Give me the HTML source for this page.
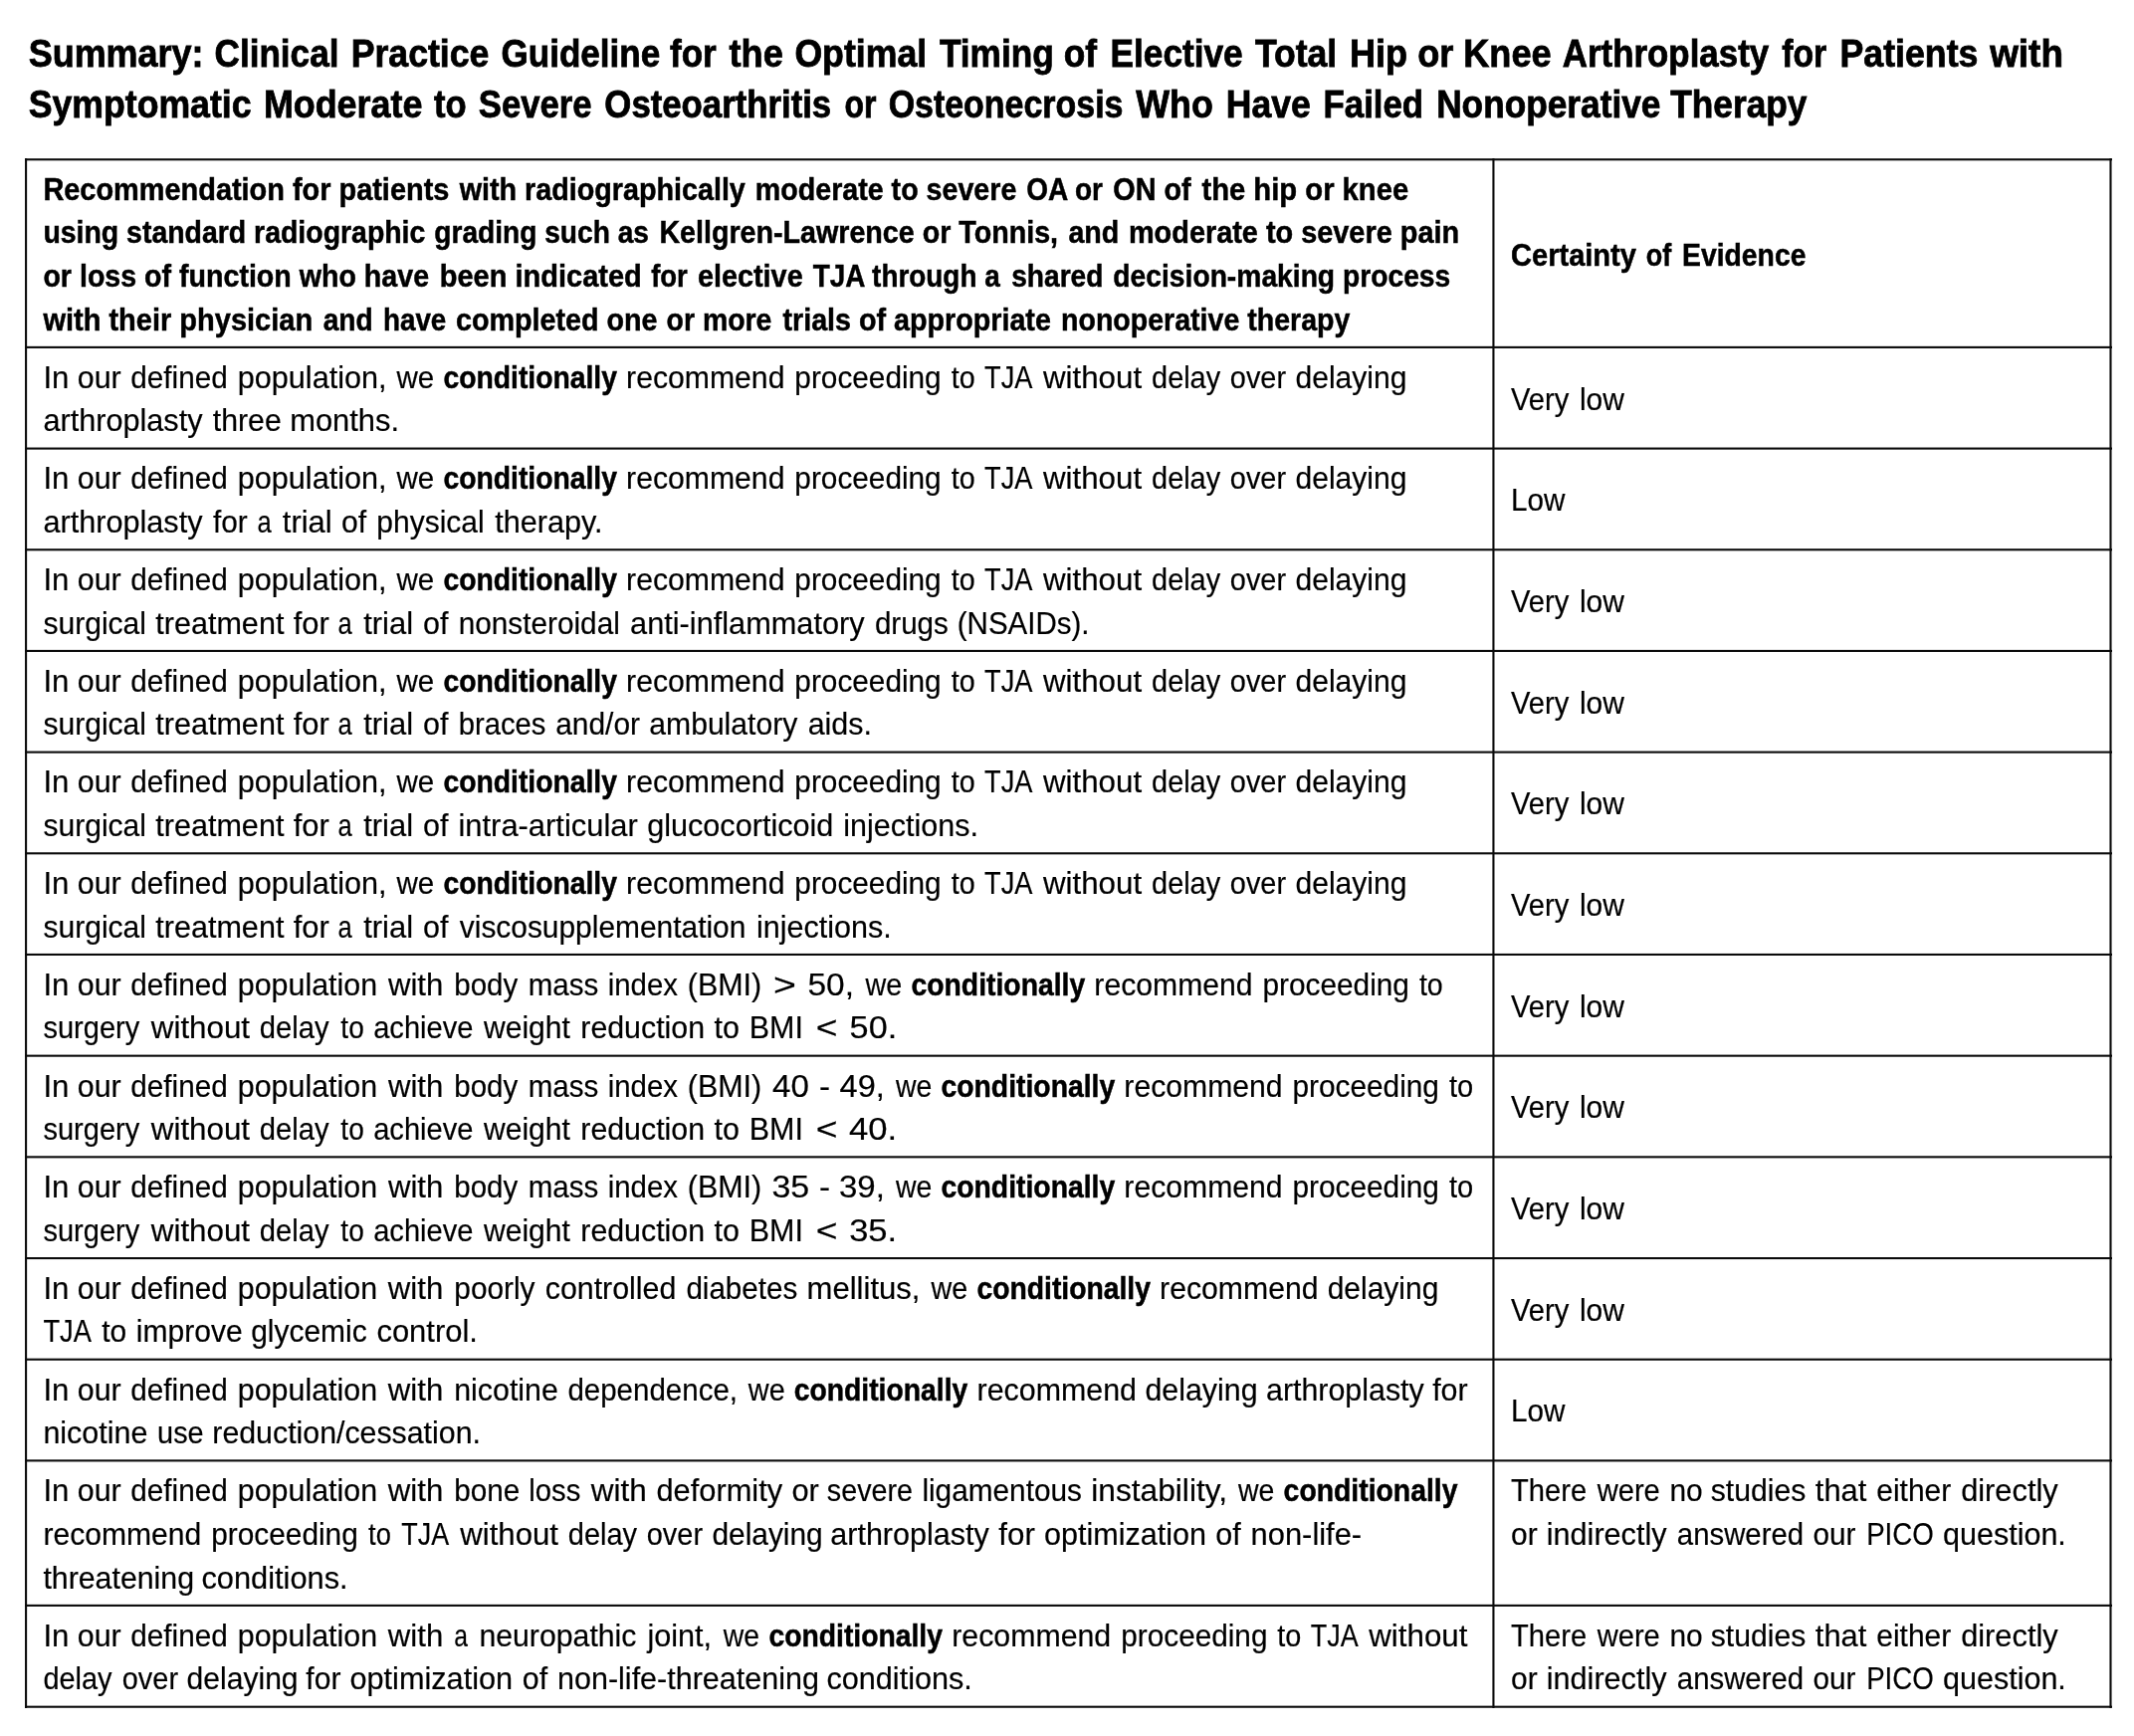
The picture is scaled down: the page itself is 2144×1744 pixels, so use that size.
<!DOCTYPE html><html><head><meta charset="utf-8"><title>Summary</title><style>
html,body{margin:0;padding:0;background:#fff}body{width:2144px;position:relative;overflow:hidden;font-family:"Liberation Sans", sans-serif;color:#000}#pg{position:absolute;left:0;top:0;width:100%;height:100%;will-change:transform}.l{position:absolute}.t{position:absolute;left:0;top:0;white-space:nowrap;transform-origin:0 0;font-size:32px;line-height:40px;height:40px;word-spacing:0.00px;-webkit-text-stroke:0.20px #000}.b{font-weight:bold;-webkit-text-stroke:0.50px #000}.h{font-size:39px;line-height:50px;height:50px;word-spacing:0.00px;-webkit-text-stroke:0.80px #000}
body{height:1744px}
</style></head><body><div id="pg">
<div class="l" style="left:25px;top:159px;width:2097px;height:1px;background:rgba(10,10,10,0.80)"></div>
<div class="l" style="left:25px;top:160px;width:2097px;height:1px;background:rgba(10,10,10,1.00)"></div>
<div class="l" style="left:25px;top:161px;width:2097px;height:1px;background:rgba(10,10,10,0.30)"></div>
<div class="l" style="left:25px;top:347px;width:2097px;height:1px;background:rgba(10,10,10,0.15)"></div>
<div class="l" style="left:25px;top:348px;width:2097px;height:1px;background:rgba(10,10,10,1.00)"></div>
<div class="l" style="left:25px;top:349px;width:2097px;height:1px;background:rgba(10,10,10,0.95)"></div>
<div class="l" style="left:25px;top:449px;width:2097px;height:1px;background:rgba(10,10,10,0.47)"></div>
<div class="l" style="left:25px;top:450px;width:2097px;height:1px;background:rgba(10,10,10,1.00)"></div>
<div class="l" style="left:25px;top:451px;width:2097px;height:1px;background:rgba(10,10,10,0.63)"></div>
<div class="l" style="left:25px;top:551px;width:2097px;height:1px;background:rgba(10,10,10,0.79)"></div>
<div class="l" style="left:25px;top:552px;width:2097px;height:1px;background:rgba(10,10,10,1.00)"></div>
<div class="l" style="left:25px;top:553px;width:2097px;height:1px;background:rgba(10,10,10,0.31)"></div>
<div class="l" style="left:25px;top:652px;width:2097px;height:1px;background:rgba(10,10,10,0.11)"></div>
<div class="l" style="left:25px;top:653px;width:2097px;height:1px;background:rgba(10,10,10,1.00)"></div>
<div class="l" style="left:25px;top:654px;width:2097px;height:1px;background:rgba(10,10,10,0.99)"></div>
<div class="l" style="left:25px;top:754px;width:2097px;height:1px;background:rgba(10,10,10,0.43)"></div>
<div class="l" style="left:25px;top:755px;width:2097px;height:1px;background:rgba(10,10,10,1.00)"></div>
<div class="l" style="left:25px;top:756px;width:2097px;height:1px;background:rgba(10,10,10,0.67)"></div>
<div class="l" style="left:25px;top:856px;width:2097px;height:1px;background:rgba(10,10,10,0.75)"></div>
<div class="l" style="left:25px;top:857px;width:2097px;height:1px;background:rgba(10,10,10,1.00)"></div>
<div class="l" style="left:25px;top:858px;width:2097px;height:1px;background:rgba(10,10,10,0.35)"></div>
<div class="l" style="left:25px;top:957px;width:2097px;height:1px;background:rgba(10,10,10,0.07)"></div>
<div class="l" style="left:25px;top:958px;width:2097px;height:1px;background:rgba(10,10,10,1.00)"></div>
<div class="l" style="left:25px;top:959px;width:2097px;height:1px;background:rgba(10,10,10,1.00)"></div>
<div class="l" style="left:25px;top:1059px;width:2097px;height:1px;background:rgba(10,10,10,0.39)"></div>
<div class="l" style="left:25px;top:1060px;width:2097px;height:1px;background:rgba(10,10,10,1.00)"></div>
<div class="l" style="left:25px;top:1061px;width:2097px;height:1px;background:rgba(10,10,10,0.71)"></div>
<div class="l" style="left:25px;top:1161px;width:2097px;height:1px;background:rgba(10,10,10,0.71)"></div>
<div class="l" style="left:25px;top:1162px;width:2097px;height:1px;background:rgba(10,10,10,1.00)"></div>
<div class="l" style="left:25px;top:1163px;width:2097px;height:1px;background:rgba(10,10,10,0.39)"></div>
<div class="l" style="left:25px;top:1263px;width:2097px;height:1px;background:rgba(10,10,10,1.00)"></div>
<div class="l" style="left:25px;top:1264px;width:2097px;height:1px;background:rgba(10,10,10,1.00)"></div>
<div class="l" style="left:25px;top:1265px;width:2097px;height:1px;background:rgba(10,10,10,0.07)"></div>
<div class="l" style="left:25px;top:1364px;width:2097px;height:1px;background:rgba(10,10,10,0.35)"></div>
<div class="l" style="left:25px;top:1365px;width:2097px;height:1px;background:rgba(10,10,10,1.00)"></div>
<div class="l" style="left:25px;top:1366px;width:2097px;height:1px;background:rgba(10,10,10,0.75)"></div>
<div class="l" style="left:25px;top:1466px;width:2097px;height:1px;background:rgba(10,10,10,0.67)"></div>
<div class="l" style="left:25px;top:1467px;width:2097px;height:1px;background:rgba(10,10,10,1.00)"></div>
<div class="l" style="left:25px;top:1468px;width:2097px;height:1px;background:rgba(10,10,10,0.43)"></div>
<div class="l" style="left:25px;top:1611px;width:2097px;height:1px;background:rgba(10,10,10,0.15)"></div>
<div class="l" style="left:25px;top:1612px;width:2097px;height:1px;background:rgba(10,10,10,1.00)"></div>
<div class="l" style="left:25px;top:1613px;width:2097px;height:1px;background:rgba(10,10,10,0.95)"></div>
<div class="l" style="left:25px;top:1713px;width:2097px;height:1px;background:rgba(10,10,10,0.35)"></div>
<div class="l" style="left:25px;top:1714px;width:2097px;height:1px;background:rgba(10,10,10,1.00)"></div>
<div class="l" style="left:25px;top:1715px;width:2097px;height:1px;background:rgba(10,10,10,0.75)"></div>
<div class="l" style="left:25px;top:159px;width:1px;height:1557px;background:rgba(10,10,10,0.97)"></div>
<div class="l" style="left:26px;top:159px;width:1px;height:1557px;background:rgba(10,10,10,1.00)"></div>
<div class="l" style="left:27px;top:159px;width:1px;height:1557px;background:rgba(10,10,10,0.13)"></div>
<div class="l" style="left:1499px;top:159px;width:1px;height:1557px;background:rgba(10,10,10,0.61)"></div>
<div class="l" style="left:1500px;top:159px;width:1px;height:1557px;background:rgba(10,10,10,1.00)"></div>
<div class="l" style="left:1501px;top:159px;width:1px;height:1557px;background:rgba(10,10,10,0.49)"></div>
<div class="l" style="left:2119px;top:159px;width:1px;height:1557px;background:rgba(10,10,10,0.55)"></div>
<div class="l" style="left:2120px;top:159px;width:1px;height:1557px;background:rgba(10,10,10,1.00)"></div>
<div class="l" style="left:2121px;top:159px;width:1px;height:1557px;background:rgba(10,10,10,0.55)"></div>
<div class="t b h" style="transform:translate(28.70px,29.00px) scaleX(0.9218)">Summary:</div>
<div class="t b h" style="transform:translate(215.54px,29.00px) scaleX(0.9003)">Clinical</div>
<div class="t b h" style="transform:translate(352.67px,29.00px) scaleX(0.9139)">Practice</div>
<div class="t b h" style="transform:translate(503.43px,29.00px) scaleX(0.8994)">Guideline for</div>
<div class="t b h" style="transform:translate(732.51px,29.00px) scaleX(0.9281)">the</div>
<div class="t b h" style="transform:translate(798.38px,29.00px) scaleX(0.9145)">Optimal</div>
<div class="t b h" style="transform:translate(943.89px,29.00px) scaleX(0.9045)">Timing of</div>
<div class="t b h" style="transform:translate(1115.54px,29.00px) scaleX(0.9031)">Elective</div>
<div class="t b h" style="transform:translate(1260.89px,29.00px) scaleX(0.9121)">Total</div>
<div class="t b h" style="transform:translate(1355.94px,29.00px) scaleX(0.9259)">Hip or Knee</div>
<div class="t b h" style="transform:translate(1569.84px,29.00px) scaleX(0.8940)">Arthroplasty</div>
<div class="t b h" style="transform:translate(1790.15px,29.00px) scaleX(0.8659)">for</div>
<div class="t b h" style="transform:translate(1848.43px,29.00px) scaleX(0.9164)">Patients</div>
<div class="t b h" style="transform:translate(1999.14px,29.00px) scaleX(0.9466)">with</div>
<div class="t b h" style="transform:translate(28.70px,80.00px) scaleX(0.9140)">Symptomatic</div>
<div class="t b h" style="transform:translate(264.88px,80.00px) scaleX(0.9201)">Moderate</div>
<div class="t b h" style="transform:translate(436.05px,80.00px) scaleX(0.8863)">to</div>
<div class="t b h" style="transform:translate(480.87px,80.00px) scaleX(0.8873)">Severe</div>
<div class="t b h" style="transform:translate(607.36px,80.00px) scaleX(0.8909)">Osteoarthritis</div>
<div class="t b h" style="transform:translate(848.58px,80.00px) scaleX(0.8194)">or</div>
<div class="t b h" style="transform:translate(892.64px,80.00px) scaleX(0.8704)">Osteonecrosis</div>
<div class="t b h" style="transform:translate(1141.23px,80.00px) scaleX(0.9191)">Who</div>
<div class="t b h" style="transform:translate(1231.85px,80.00px) scaleX(0.9109)">Have</div>
<div class="t b h" style="transform:translate(1329.51px,80.00px) scaleX(0.8926)">Failed</div>
<div class="t b h" style="transform:translate(1443.15px,80.00px) scaleX(0.9040)">Nonoperative Therapy</div>
<div class="t b" style="transform:translate(43.40px,170.00px) scaleX(0.9033)">Recommendation for patients</div>
<div class="t b" style="transform:translate(461.65px,170.00px) scaleX(0.8973)">with radiographically</div>
<div class="t b" style="transform:translate(758.79px,170.00px) scaleX(0.8947)">moderate to severe</div>
<div class="t b" style="transform:translate(1031.15px,170.00px) scaleX(0.8757)">OA or</div>
<div class="t b" style="transform:translate(1118.30px,170.00px) scaleX(0.9003)">ON of</div>
<div class="t b" style="transform:translate(1207.40px,170.00px) scaleX(0.9131)">the hip or knee</div>
<div class="t b" style="transform:translate(43.40px,213.00px) scaleX(0.8886)">using standard radiographic</div>
<div class="t b" style="transform:translate(436.34px,213.00px) scaleX(0.8784)">grading such as</div>
<div class="t b" style="transform:translate(662.39px,213.00px) scaleX(0.8953)">Kellgren-Lawrence or Tonnis,</div>
<div class="t b" style="transform:translate(1073.44px,213.00px) scaleX(0.8933)">and</div>
<div class="t b" style="transform:translate(1133.93px,213.00px) scaleX(0.9023)">moderate to severe pain</div>
<div class="t b" style="transform:translate(43.40px,257.00px) scaleX(0.8936)">or loss of function who have</div>
<div class="t b" style="transform:translate(441.76px,257.00px) scaleX(0.9060)">been indicated</div>
<div class="t b" style="transform:translate(654.17px,257.00px) scaleX(0.8590)">for</div>
<div class="t b" style="transform:translate(700.91px,257.00px) scaleX(0.9008)">elective</div>
<div class="t b" style="transform:translate(816.73px,257.00px) scaleX(0.8714)">TJA through a</div>
<div class="t b" style="transform:translate(1016.21px,257.00px) scaleX(0.8788)">shared</div>
<div class="t b" style="transform:translate(1118.34px,257.00px) scaleX(0.8823)">decision-making process</div>
<div class="t b" style="transform:translate(43.40px,301.00px) scaleX(0.9063)">with their physician</div>
<div class="t b" style="transform:translate(324.71px,301.00px) scaleX(0.8792)">and</div>
<div class="t b" style="transform:translate(384.93px,301.00px) scaleX(0.8693)">have</div>
<div class="t b" style="transform:translate(457.92px,301.00px) scaleX(0.8970)">completed one</div>
<div class="t b" style="transform:translate(669.60px,301.00px) scaleX(0.8882)">or more</div>
<div class="t b" style="transform:translate(786.46px,301.00px) scaleX(0.8965)">trials of appropriate</div>
<div class="t b" style="transform:translate(1066.06px,301.00px) scaleX(0.8920)">nonoperative therapy</div>
<div class="t b" style="transform:translate(1518.00px,236.00px) scaleX(0.9081)">Certainty</div>
<div class="t b" style="transform:translate(1653.85px,236.00px) scaleX(0.8425)">of</div>
<div class="t b" style="transform:translate(1690.09px,236.00px) scaleX(0.8846)">Evidence</div>
<div class="t" style="transform:translate(43.40px,359.00px) scaleX(0.9741)">In</div>
<div class="t" style="transform:translate(77.79px,359.00px) scaleX(0.9497)">our</div>
<div class="t" style="transform:translate(131.36px,359.00px) scaleX(0.9274)">defined</div>
<div class="t" style="transform:translate(238.76px,359.00px) scaleX(0.9562)">population,</div>
<div class="t" style="transform:translate(398.45px,359.00px) scaleX(0.9243)">we</div>
<div class="t b" style="transform:translate(445.42px,359.00px) scaleX(0.8843)">conditionally</div>
<div class="t" style="transform:translate(629.10px,359.00px) scaleX(0.9429)">recommend</div>
<div class="t" style="transform:translate(798.34px,359.00px) scaleX(0.9305)">proceeding</div>
<div class="t" style="transform:translate(955.65px,359.00px) scaleX(0.8971)">to</div>
<div class="t" style="transform:translate(989.12px,359.00px) scaleX(0.8493)">TJA</div>
<div class="t" style="transform:translate(1047.90px,359.00px) scaleX(0.9785)">without</div>
<div class="t" style="transform:translate(1157.05px,359.00px) scaleX(0.9033)">delay</div>
<div class="t" style="transform:translate(1235.85px,359.00px) scaleX(0.9026)">over</div>
<div class="t" style="transform:translate(1301.46px,359.00px) scaleX(0.9393)">delaying</div>
<div class="t" style="transform:translate(43.40px,402.00px) scaleX(0.9575)">arthroplasty</div>
<div class="t" style="transform:translate(213.84px,402.00px) scaleX(0.9442)">three</div>
<div class="t" style="transform:translate(291.16px,402.00px) scaleX(0.9648)">months.</div>
<div class="t" style="transform:translate(1518.00px,381.00px) scaleX(0.9113)">Very</div>
<div class="t" style="transform:translate(1586.91px,381.00px) scaleX(0.9370)">low</div>
<div class="t" style="transform:translate(43.40px,460.00px) scaleX(0.9741)">In</div>
<div class="t" style="transform:translate(77.79px,460.00px) scaleX(0.9497)">our</div>
<div class="t" style="transform:translate(131.36px,460.00px) scaleX(0.9274)">defined</div>
<div class="t" style="transform:translate(238.76px,460.00px) scaleX(0.9562)">population,</div>
<div class="t" style="transform:translate(398.45px,460.00px) scaleX(0.9243)">we</div>
<div class="t b" style="transform:translate(445.42px,460.00px) scaleX(0.8843)">conditionally</div>
<div class="t" style="transform:translate(629.10px,460.00px) scaleX(0.9429)">recommend</div>
<div class="t" style="transform:translate(798.34px,460.00px) scaleX(0.9305)">proceeding</div>
<div class="t" style="transform:translate(955.65px,460.00px) scaleX(0.8971)">to</div>
<div class="t" style="transform:translate(989.12px,460.00px) scaleX(0.8493)">TJA</div>
<div class="t" style="transform:translate(1047.90px,460.00px) scaleX(0.9785)">without</div>
<div class="t" style="transform:translate(1157.05px,460.00px) scaleX(0.9033)">delay</div>
<div class="t" style="transform:translate(1235.85px,460.00px) scaleX(0.9026)">over</div>
<div class="t" style="transform:translate(1301.46px,460.00px) scaleX(0.9393)">delaying</div>
<div class="t" style="transform:translate(43.40px,504.00px) scaleX(0.9575)">arthroplasty</div>
<div class="t" style="transform:translate(213.95px,504.00px) scaleX(0.9314)">for</div>
<div class="t" style="transform:translate(258.38px,504.00px) scaleX(0.7978)">a</div>
<div class="t" style="transform:translate(283.80px,504.00px) scaleX(0.9660)">trial</div>
<div class="t" style="transform:translate(343.12px,504.00px) scaleX(0.9405)">of</div>
<div class="t" style="transform:translate(378.29px,504.00px) scaleX(0.9378)">physical</div>
<div class="t" style="transform:translate(497.17px,504.00px) scaleX(0.9574)">therapy.</div>
<div class="t" style="transform:translate(1518.00px,482.00px) scaleX(0.9273)">Low</div>
<div class="t" style="transform:translate(43.40px,562.00px) scaleX(0.9741)">In</div>
<div class="t" style="transform:translate(77.79px,562.00px) scaleX(0.9497)">our</div>
<div class="t" style="transform:translate(131.36px,562.00px) scaleX(0.9274)">defined</div>
<div class="t" style="transform:translate(238.76px,562.00px) scaleX(0.9562)">population,</div>
<div class="t" style="transform:translate(398.45px,562.00px) scaleX(0.9243)">we</div>
<div class="t b" style="transform:translate(445.42px,562.00px) scaleX(0.8843)">conditionally</div>
<div class="t" style="transform:translate(629.10px,562.00px) scaleX(0.9429)">recommend</div>
<div class="t" style="transform:translate(798.34px,562.00px) scaleX(0.9305)">proceeding</div>
<div class="t" style="transform:translate(955.65px,562.00px) scaleX(0.8971)">to</div>
<div class="t" style="transform:translate(989.12px,562.00px) scaleX(0.8493)">TJA</div>
<div class="t" style="transform:translate(1047.90px,562.00px) scaleX(0.9785)">without</div>
<div class="t" style="transform:translate(1157.05px,562.00px) scaleX(0.9033)">delay</div>
<div class="t" style="transform:translate(1235.85px,562.00px) scaleX(0.9026)">over</div>
<div class="t" style="transform:translate(1301.46px,562.00px) scaleX(0.9393)">delaying</div>
<div class="t" style="transform:translate(43.40px,606.00px) scaleX(0.9397)">surgical</div>
<div class="t" style="transform:translate(156.22px,606.00px) scaleX(0.9555)">treatment</div>
<div class="t" style="transform:translate(294.74px,606.00px) scaleX(0.9649)">for</div>
<div class="t" style="transform:translate(339.38px,606.00px) scaleX(0.7978)">a</div>
<div class="t" style="transform:translate(365.16px,606.00px) scaleX(0.9682)">trial</div>
<div class="t" style="transform:translate(425.07px,606.00px) scaleX(0.9508)">of</div>
<div class="t" style="transform:translate(460.68px,606.00px) scaleX(0.9300)">nonsteroidal</div>
<div class="t" style="transform:translate(633.12px,606.00px) scaleX(0.9595)">anti-inflammatory</div>
<div class="t" style="transform:translate(878.89px,606.00px) scaleX(0.9234)">drugs</div>
<div class="t" style="transform:translate(961.80px,606.00px) scaleX(0.9217)">(NSAIDs).</div>
<div class="t" style="transform:translate(1518.00px,584.00px) scaleX(0.9113)">Very</div>
<div class="t" style="transform:translate(1586.91px,584.00px) scaleX(0.9370)">low</div>
<div class="t" style="transform:translate(43.40px,664.00px) scaleX(0.9741)">In</div>
<div class="t" style="transform:translate(77.79px,664.00px) scaleX(0.9497)">our</div>
<div class="t" style="transform:translate(131.36px,664.00px) scaleX(0.9274)">defined</div>
<div class="t" style="transform:translate(238.76px,664.00px) scaleX(0.9562)">population,</div>
<div class="t" style="transform:translate(398.45px,664.00px) scaleX(0.9243)">we</div>
<div class="t b" style="transform:translate(445.42px,664.00px) scaleX(0.8843)">conditionally</div>
<div class="t" style="transform:translate(629.10px,664.00px) scaleX(0.9429)">recommend</div>
<div class="t" style="transform:translate(798.34px,664.00px) scaleX(0.9305)">proceeding</div>
<div class="t" style="transform:translate(955.65px,664.00px) scaleX(0.8971)">to</div>
<div class="t" style="transform:translate(989.12px,664.00px) scaleX(0.8493)">TJA</div>
<div class="t" style="transform:translate(1047.90px,664.00px) scaleX(0.9785)">without</div>
<div class="t" style="transform:translate(1157.05px,664.00px) scaleX(0.9033)">delay</div>
<div class="t" style="transform:translate(1235.85px,664.00px) scaleX(0.9026)">over</div>
<div class="t" style="transform:translate(1301.46px,664.00px) scaleX(0.9393)">delaying</div>
<div class="t" style="transform:translate(43.40px,707.00px) scaleX(0.9397)">surgical</div>
<div class="t" style="transform:translate(156.22px,707.00px) scaleX(0.9555)">treatment</div>
<div class="t" style="transform:translate(294.74px,707.00px) scaleX(0.9649)">for</div>
<div class="t" style="transform:translate(339.38px,707.00px) scaleX(0.7978)">a</div>
<div class="t" style="transform:translate(365.16px,707.00px) scaleX(0.9682)">trial</div>
<div class="t" style="transform:translate(425.07px,707.00px) scaleX(0.9508)">of</div>
<div class="t" style="transform:translate(460.76px,707.00px) scaleX(0.9132)">braces</div>
<div class="t" style="transform:translate(558.21px,707.00px) scaleX(0.9344)">and/or</div>
<div class="t" style="transform:translate(652.35px,707.00px) scaleX(0.9403)">ambulatory</div>
<div class="t" style="transform:translate(811.65px,707.00px) scaleX(0.9515)">aids.</div>
<div class="t" style="transform:translate(1518.00px,686.00px) scaleX(0.9113)">Very</div>
<div class="t" style="transform:translate(1586.91px,686.00px) scaleX(0.9370)">low</div>
<div class="t" style="transform:translate(43.40px,765.00px) scaleX(0.9741)">In</div>
<div class="t" style="transform:translate(77.79px,765.00px) scaleX(0.9497)">our</div>
<div class="t" style="transform:translate(131.36px,765.00px) scaleX(0.9274)">defined</div>
<div class="t" style="transform:translate(238.76px,765.00px) scaleX(0.9562)">population,</div>
<div class="t" style="transform:translate(398.45px,765.00px) scaleX(0.9243)">we</div>
<div class="t b" style="transform:translate(445.42px,765.00px) scaleX(0.8843)">conditionally</div>
<div class="t" style="transform:translate(629.10px,765.00px) scaleX(0.9429)">recommend</div>
<div class="t" style="transform:translate(798.34px,765.00px) scaleX(0.9305)">proceeding</div>
<div class="t" style="transform:translate(955.65px,765.00px) scaleX(0.8971)">to</div>
<div class="t" style="transform:translate(989.12px,765.00px) scaleX(0.8493)">TJA</div>
<div class="t" style="transform:translate(1047.90px,765.00px) scaleX(0.9785)">without</div>
<div class="t" style="transform:translate(1157.05px,765.00px) scaleX(0.9033)">delay</div>
<div class="t" style="transform:translate(1235.85px,765.00px) scaleX(0.9026)">over</div>
<div class="t" style="transform:translate(1301.46px,765.00px) scaleX(0.9393)">delaying</div>
<div class="t" style="transform:translate(43.40px,809.00px) scaleX(0.9397)">surgical</div>
<div class="t" style="transform:translate(156.22px,809.00px) scaleX(0.9555)">treatment</div>
<div class="t" style="transform:translate(294.74px,809.00px) scaleX(0.9649)">for</div>
<div class="t" style="transform:translate(339.38px,809.00px) scaleX(0.7978)">a</div>
<div class="t" style="transform:translate(365.16px,809.00px) scaleX(0.9682)">trial</div>
<div class="t" style="transform:translate(425.07px,809.00px) scaleX(0.9508)">of</div>
<div class="t" style="transform:translate(460.49px,809.00px) scaleX(0.9653)">intra-articular</div>
<div class="t" style="transform:translate(650.21px,809.00px) scaleX(0.9563)">glucocorticoid</div>
<div class="t" style="transform:translate(847.34px,809.00px) scaleX(0.9524)">injections.</div>
<div class="t" style="transform:translate(1518.00px,787.00px) scaleX(0.9113)">Very</div>
<div class="t" style="transform:translate(1586.91px,787.00px) scaleX(0.9370)">low</div>
<div class="t" style="transform:translate(43.40px,867.00px) scaleX(0.9741)">In</div>
<div class="t" style="transform:translate(77.79px,867.00px) scaleX(0.9497)">our</div>
<div class="t" style="transform:translate(131.36px,867.00px) scaleX(0.9274)">defined</div>
<div class="t" style="transform:translate(238.76px,867.00px) scaleX(0.9562)">population,</div>
<div class="t" style="transform:translate(398.45px,867.00px) scaleX(0.9243)">we</div>
<div class="t b" style="transform:translate(445.42px,867.00px) scaleX(0.8843)">conditionally</div>
<div class="t" style="transform:translate(629.10px,867.00px) scaleX(0.9429)">recommend</div>
<div class="t" style="transform:translate(798.34px,867.00px) scaleX(0.9305)">proceeding</div>
<div class="t" style="transform:translate(955.65px,867.00px) scaleX(0.8971)">to</div>
<div class="t" style="transform:translate(989.12px,867.00px) scaleX(0.8493)">TJA</div>
<div class="t" style="transform:translate(1047.90px,867.00px) scaleX(0.9785)">without</div>
<div class="t" style="transform:translate(1157.05px,867.00px) scaleX(0.9033)">delay</div>
<div class="t" style="transform:translate(1235.85px,867.00px) scaleX(0.9026)">over</div>
<div class="t" style="transform:translate(1301.46px,867.00px) scaleX(0.9393)">delaying</div>
<div class="t" style="transform:translate(43.40px,911.00px) scaleX(0.9397)">surgical</div>
<div class="t" style="transform:translate(156.22px,911.00px) scaleX(0.9555)">treatment</div>
<div class="t" style="transform:translate(294.74px,911.00px) scaleX(0.9649)">for</div>
<div class="t" style="transform:translate(339.38px,911.00px) scaleX(0.7978)">a</div>
<div class="t" style="transform:translate(365.16px,911.00px) scaleX(0.9682)">trial</div>
<div class="t" style="transform:translate(425.07px,911.00px) scaleX(0.9508)">of</div>
<div class="t" style="transform:translate(461.79px,911.00px) scaleX(0.9344)">viscosupplementation</div>
<div class="t" style="transform:translate(760.05px,911.00px) scaleX(0.9540)">injections.</div>
<div class="t" style="transform:translate(1518.00px,889.00px) scaleX(0.9113)">Very</div>
<div class="t" style="transform:translate(1586.91px,889.00px) scaleX(0.9370)">low</div>
<div class="t" style="transform:translate(43.40px,969.00px) scaleX(0.9741)">In</div>
<div class="t" style="transform:translate(77.79px,969.00px) scaleX(0.9497)">our</div>
<div class="t" style="transform:translate(131.36px,969.00px) scaleX(0.9274)">defined</div>
<div class="t" style="transform:translate(238.83px,969.00px) scaleX(0.9493)">population</div>
<div class="t" style="transform:translate(389.90px,969.00px) scaleX(0.9748)">with</div>
<div class="t" style="transform:translate(456.34px,969.00px) scaleX(0.9210)">body</div>
<div class="t" style="transform:translate(530.74px,969.00px) scaleX(0.9233)">mass</div>
<div class="t" style="transform:translate(610.69px,969.00px) scaleX(0.9177)">index</div>
<div class="t" style="transform:translate(690.78px,969.00px) scaleX(0.9516)">(BMI)</div>
<div class="t" style="transform:translate(777.01px,969.00px) scaleX(1.2251)">&gt;</div>
<div class="t" style="transform:translate(811.45px,969.00px) scaleX(1.0470)">50,</div>
<div class="t" style="transform:translate(869.46px,969.00px) scaleX(0.8999)">we</div>
<div class="t b" style="transform:translate(915.51px,969.00px) scaleX(0.8851)">conditionally</div>
<div class="t" style="transform:translate(1099.34px,969.00px) scaleX(0.9428)">recommend</div>
<div class="t" style="transform:translate(1268.45px,969.00px) scaleX(0.9312)">proceeding</div>
<div class="t" style="transform:translate(1425.90px,969.00px) scaleX(0.8932)">to</div>
<div class="t" style="transform:translate(43.40px,1012.00px) scaleX(0.9077)">surgery</div>
<div class="t" style="transform:translate(151.79px,1012.00px) scaleX(0.9792)">without</div>
<div class="t" style="transform:translate(260.77px,1012.00px) scaleX(0.9113)">delay</div>
<div class="t" style="transform:translate(342.37px,1012.00px) scaleX(0.8768)">to</div>
<div class="t" style="transform:translate(375.14px,1012.00px) scaleX(0.9096)">achieve</div>
<div class="t" style="transform:translate(486.00px,1012.00px) scaleX(0.9386)">weight</div>
<div class="t" style="transform:translate(583.31px,1012.00px) scaleX(0.9473)">reduction</div>
<div class="t" style="transform:translate(717.57px,1012.00px) scaleX(0.9511)">to</div>
<div class="t" style="transform:translate(752.73px,1012.00px) scaleX(0.9523)">BMI</div>
<div class="t" style="transform:translate(819.73px,1012.00px) scaleX(1.1631)">&lt;</div>
<div class="t" style="transform:translate(853.60px,1012.00px) scaleX(1.0695)">50.</div>
<div class="t" style="transform:translate(1518.00px,991.00px) scaleX(0.9113)">Very</div>
<div class="t" style="transform:translate(1586.91px,991.00px) scaleX(0.9370)">low</div>
<div class="t" style="transform:translate(43.40px,1071.00px) scaleX(0.9741)">In</div>
<div class="t" style="transform:translate(77.79px,1071.00px) scaleX(0.9497)">our</div>
<div class="t" style="transform:translate(131.36px,1071.00px) scaleX(0.9274)">defined</div>
<div class="t" style="transform:translate(238.83px,1071.00px) scaleX(0.9493)">population</div>
<div class="t" style="transform:translate(389.90px,1071.00px) scaleX(0.9748)">with</div>
<div class="t" style="transform:translate(456.34px,1071.00px) scaleX(0.9210)">body</div>
<div class="t" style="transform:translate(530.74px,1071.00px) scaleX(0.9233)">mass</div>
<div class="t" style="transform:translate(610.69px,1071.00px) scaleX(0.9177)">index</div>
<div class="t" style="transform:translate(690.78px,1071.00px) scaleX(0.9516)">(BMI)</div>
<div class="t" style="transform:translate(776.10px,1071.00px) scaleX(1.0354)">40</div>
<div class="t" style="transform:translate(822.98px,1071.00px) scaleX(1.0350)">-</div>
<div class="t" style="transform:translate(843.59px,1071.00px) scaleX(1.0165)">49,</div>
<div class="t" style="transform:translate(899.99px,1071.00px) scaleX(0.8885)">we</div>
<div class="t b" style="transform:translate(945.51px,1071.00px) scaleX(0.8851)">conditionally</div>
<div class="t" style="transform:translate(1129.34px,1071.00px) scaleX(0.9428)">recommend</div>
<div class="t" style="transform:translate(1298.45px,1071.00px) scaleX(0.9312)">proceeding</div>
<div class="t" style="transform:translate(1455.88px,1071.00px) scaleX(0.9076)">to</div>
<div class="t" style="transform:translate(43.40px,1114.00px) scaleX(0.9077)">surgery</div>
<div class="t" style="transform:translate(151.79px,1114.00px) scaleX(0.9792)">without</div>
<div class="t" style="transform:translate(260.77px,1114.00px) scaleX(0.9113)">delay</div>
<div class="t" style="transform:translate(342.37px,1114.00px) scaleX(0.8768)">to</div>
<div class="t" style="transform:translate(375.14px,1114.00px) scaleX(0.9096)">achieve</div>
<div class="t" style="transform:translate(486.00px,1114.00px) scaleX(0.9386)">weight</div>
<div class="t" style="transform:translate(583.31px,1114.00px) scaleX(0.9473)">reduction</div>
<div class="t" style="transform:translate(717.57px,1114.00px) scaleX(0.9511)">to</div>
<div class="t" style="transform:translate(752.73px,1114.00px) scaleX(0.9523)">BMI</div>
<div class="t" style="transform:translate(819.73px,1114.00px) scaleX(1.1631)">&lt;</div>
<div class="t" style="transform:translate(852.97px,1114.00px) scaleX(1.0844)">40.</div>
<div class="t" style="transform:translate(1518.00px,1092.00px) scaleX(0.9113)">Very</div>
<div class="t" style="transform:translate(1586.91px,1092.00px) scaleX(0.9370)">low</div>
<div class="t" style="transform:translate(43.40px,1172.00px) scaleX(0.9741)">In</div>
<div class="t" style="transform:translate(77.79px,1172.00px) scaleX(0.9497)">our</div>
<div class="t" style="transform:translate(131.36px,1172.00px) scaleX(0.9274)">defined</div>
<div class="t" style="transform:translate(238.83px,1172.00px) scaleX(0.9493)">population</div>
<div class="t" style="transform:translate(389.90px,1172.00px) scaleX(0.9748)">with</div>
<div class="t" style="transform:translate(456.34px,1172.00px) scaleX(0.9210)">body</div>
<div class="t" style="transform:translate(530.74px,1172.00px) scaleX(0.9233)">mass</div>
<div class="t" style="transform:translate(610.69px,1172.00px) scaleX(0.9177)">index</div>
<div class="t" style="transform:translate(690.78px,1172.00px) scaleX(0.9516)">(BMI)</div>
<div class="t" style="transform:translate(775.44px,1172.00px) scaleX(1.0613)">35</div>
<div class="t" style="transform:translate(822.98px,1172.00px) scaleX(1.0350)">-</div>
<div class="t" style="transform:translate(842.99px,1172.00px) scaleX(1.0327)">39,</div>
<div class="t" style="transform:translate(899.99px,1172.00px) scaleX(0.8885)">we</div>
<div class="t b" style="transform:translate(945.51px,1172.00px) scaleX(0.8851)">conditionally</div>
<div class="t" style="transform:translate(1129.34px,1172.00px) scaleX(0.9428)">recommend</div>
<div class="t" style="transform:translate(1298.45px,1172.00px) scaleX(0.9312)">proceeding</div>
<div class="t" style="transform:translate(1455.88px,1172.00px) scaleX(0.9076)">to</div>
<div class="t" style="transform:translate(43.40px,1216.00px) scaleX(0.9077)">surgery</div>
<div class="t" style="transform:translate(151.79px,1216.00px) scaleX(0.9792)">without</div>
<div class="t" style="transform:translate(260.77px,1216.00px) scaleX(0.9113)">delay</div>
<div class="t" style="transform:translate(342.37px,1216.00px) scaleX(0.8768)">to</div>
<div class="t" style="transform:translate(375.14px,1216.00px) scaleX(0.9096)">achieve</div>
<div class="t" style="transform:translate(486.00px,1216.00px) scaleX(0.9386)">weight</div>
<div class="t" style="transform:translate(583.31px,1216.00px) scaleX(0.9473)">reduction</div>
<div class="t" style="transform:translate(717.57px,1216.00px) scaleX(0.9511)">to</div>
<div class="t" style="transform:translate(752.73px,1216.00px) scaleX(0.9523)">BMI</div>
<div class="t" style="transform:translate(819.73px,1216.00px) scaleX(1.1631)">&lt;</div>
<div class="t" style="transform:translate(853.17px,1216.00px) scaleX(1.0790)">35.</div>
<div class="t" style="transform:translate(1518.00px,1194.00px) scaleX(0.9113)">Very</div>
<div class="t" style="transform:translate(1586.91px,1194.00px) scaleX(0.9370)">low</div>
<div class="t" style="transform:translate(43.40px,1274.00px) scaleX(0.9741)">In</div>
<div class="t" style="transform:translate(77.79px,1274.00px) scaleX(0.9497)">our</div>
<div class="t" style="transform:translate(131.36px,1274.00px) scaleX(0.9274)">defined</div>
<div class="t" style="transform:translate(238.83px,1274.00px) scaleX(0.9493)">population</div>
<div class="t" style="transform:translate(389.79px,1274.00px) scaleX(0.9742)">with</div>
<div class="t" style="transform:translate(456.30px,1274.00px) scaleX(0.9315)">poorly</div>
<div class="t" style="transform:translate(547.72px,1274.00px) scaleX(0.9488)">controlled</div>
<div class="t" style="transform:translate(689.38px,1274.00px) scaleX(0.9245)">diabetes</div>
<div class="t" style="transform:translate(810.55px,1274.00px) scaleX(0.9709)">mellitus,</div>
<div class="t" style="transform:translate(935.47px,1274.00px) scaleX(0.8978)">we</div>
<div class="t b" style="transform:translate(981.42px,1274.00px) scaleX(0.8843)">conditionally</div>
<div class="t" style="transform:translate(1165.09px,1274.00px) scaleX(0.9438)">recommend</div>
<div class="t" style="transform:translate(1333.64px,1274.00px) scaleX(0.9370)">delaying</div>
<div class="t" style="transform:translate(43.40px,1317.00px) scaleX(0.8530)">TJA</div>
<div class="t" style="transform:translate(102.24px,1317.00px) scaleX(0.9353)">to</div>
<div class="t" style="transform:translate(136.72px,1317.00px) scaleX(0.9397)">improve</div>
<div class="t" style="transform:translate(252.14px,1317.00px) scaleX(0.9361)">glycemic</div>
<div class="t" style="transform:translate(378.45px,1317.00px) scaleX(0.9666)">control.</div>
<div class="t" style="transform:translate(1518.00px,1296.00px) scaleX(0.9113)">Very</div>
<div class="t" style="transform:translate(1586.91px,1296.00px) scaleX(0.9370)">low</div>
<div class="t" style="transform:translate(43.40px,1376.00px) scaleX(0.9741)">In</div>
<div class="t" style="transform:translate(77.79px,1376.00px) scaleX(0.9497)">our</div>
<div class="t" style="transform:translate(131.36px,1376.00px) scaleX(0.9274)">defined</div>
<div class="t" style="transform:translate(238.83px,1376.00px) scaleX(0.9493)">population</div>
<div class="t" style="transform:translate(389.79px,1376.00px) scaleX(0.9742)">with</div>
<div class="t" style="transform:translate(456.19px,1376.00px) scaleX(0.9487)">nicotine</div>
<div class="t" style="transform:translate(570.39px,1376.00px) scaleX(0.9219)">dependence,</div>
<div class="t" style="transform:translate(751.86px,1376.00px) scaleX(0.9024)">we</div>
<div class="t b" style="transform:translate(797.77px,1376.00px) scaleX(0.8840)">conditionally</div>
<div class="t" style="transform:translate(981.59px,1376.00px) scaleX(0.9493)">recommend delaying arthroplasty for</div>
<div class="t" style="transform:translate(43.40px,1419.00px) scaleX(0.9523)">nicotine</div>
<div class="t" style="transform:translate(158.07px,1419.00px) scaleX(0.9024)">use</div>
<div class="t" style="transform:translate(213.31px,1419.00px) scaleX(0.9473)">reduction/cessation.</div>
<div class="t" style="transform:translate(1518.00px,1397.00px) scaleX(0.9273)">Low</div>
<div class="t" style="transform:translate(43.40px,1477.00px) scaleX(0.9741)">In</div>
<div class="t" style="transform:translate(77.79px,1477.00px) scaleX(0.9497)">our</div>
<div class="t" style="transform:translate(131.36px,1477.00px) scaleX(0.9274)">defined</div>
<div class="t" style="transform:translate(238.83px,1477.00px) scaleX(0.9493)">population</div>
<div class="t" style="transform:translate(389.79px,1477.00px) scaleX(0.9742)">with</div>
<div class="t" style="transform:translate(456.31px,1477.00px) scaleX(0.9282)">bone</div>
<div class="t" style="transform:translate(531.29px,1477.00px) scaleX(0.9138)">loss</div>
<div class="t" style="transform:translate(593.67px,1477.00px) scaleX(0.9836)">with</div>
<div class="t" style="transform:translate(659.48px,1477.00px) scaleX(0.9623)">deformity</div>
<div class="t" style="transform:translate(795.44px,1477.00px) scaleX(0.9641)">or</div>
<div class="t" style="transform:translate(830.80px,1477.00px) scaleX(0.8979)">severe</div>
<div class="t" style="transform:translate(926.38px,1477.00px) scaleX(0.9308)">ligamentous</div>
<div class="t" style="transform:translate(1096.33px,1477.00px) scaleX(0.9895)">instability,</div>
<div class="t" style="transform:translate(1244.00px,1477.00px) scaleX(0.8893)">we</div>
<div class="t b" style="transform:translate(1289.62px,1477.00px) scaleX(0.8859)">conditionally</div>
<div class="t" style="transform:translate(43.40px,1521.00px) scaleX(0.9402)">recommend</div>
<div class="t" style="transform:translate(212.24px,1521.00px) scaleX(0.9315)">proceeding</div>
<div class="t" style="transform:translate(370.07px,1521.00px) scaleX(0.8539)">to</div>
<div class="t" style="transform:translate(403.32px,1521.00px) scaleX(0.8413)">TJA</div>
<div class="t" style="transform:translate(462.25px,1521.00px) scaleX(0.9732)">without</div>
<div class="t" style="transform:translate(570.79px,1521.00px) scaleX(0.9063)">delay</div>
<div class="t" style="transform:translate(649.74px,1521.00px) scaleX(0.9042)">over</div>
<div class="t" style="transform:translate(715.40px,1521.00px) scaleX(0.9337)">delaying</div>
<div class="t" style="transform:translate(834.25px,1521.00px) scaleX(0.9543)">arthroplasty</div>
<div class="t" style="transform:translate(1003.33px,1521.00px) scaleX(0.9780)">for</div>
<div class="t" style="transform:translate(1049.03px,1521.00px) scaleX(0.9549)">optimization</div>
<div class="t" style="transform:translate(1221.32px,1521.00px) scaleX(0.9524)">of</div>
<div class="t" style="transform:translate(1256.61px,1521.00px) scaleX(0.9646)">non-life-</div>
<div class="t" style="transform:translate(43.40px,1565.00px) scaleX(0.9470)">threatening</div>
<div class="t" style="transform:translate(202.41px,1565.00px) scaleX(0.9621)">conditions.</div>
<div class="t" style="transform:translate(1518.00px,1477.00px) scaleX(0.9101)">There</div>
<div class="t" style="transform:translate(1604.64px,1477.00px) scaleX(0.9109)">were</div>
<div class="t" style="transform:translate(1677.41px,1477.00px) scaleX(0.9347)">no</div>
<div class="t" style="transform:translate(1718.67px,1477.00px) scaleX(0.9433)">studies</div>
<div class="t" style="transform:translate(1823.81px,1477.00px) scaleX(0.9644)">that</div>
<div class="t" style="transform:translate(1885.24px,1477.00px) scaleX(0.9363)">either</div>
<div class="t" style="transform:translate(1970.13px,1477.00px) scaleX(0.9629)">directly</div>
<div class="t" style="transform:translate(1518.00px,1521.00px) scaleX(0.9356)">or</div>
<div class="t" style="transform:translate(1553.76px,1521.00px) scaleX(0.9561)">indirectly</div>
<div class="t" style="transform:translate(1684.82px,1521.00px) scaleX(0.9172)">answered</div>
<div class="t" style="transform:translate(1821.40px,1521.00px) scaleX(0.9292)">our</div>
<div class="t" style="transform:translate(1875.15px,1521.00px) scaleX(0.8653)">PICO</div>
<div class="t" style="transform:translate(1952.06px,1521.00px) scaleX(0.9530)">question.</div>
<div class="t" style="transform:translate(43.40px,1623.00px) scaleX(0.9741)">In</div>
<div class="t" style="transform:translate(77.79px,1623.00px) scaleX(0.9497)">our</div>
<div class="t" style="transform:translate(131.36px,1623.00px) scaleX(0.9274)">defined</div>
<div class="t" style="transform:translate(238.83px,1623.00px) scaleX(0.9493)">population</div>
<div class="t" style="transform:translate(389.79px,1623.00px) scaleX(0.9742)">with</div>
<div class="t" style="transform:translate(456.32px,1623.00px) scaleX(0.7708)">a</div>
<div class="t" style="transform:translate(481.41px,1623.00px) scaleX(0.9449)">neuropathic</div>
<div class="t" style="transform:translate(650.43px,1623.00px) scaleX(0.9565)">joint,</div>
<div class="t" style="transform:translate(726.86px,1623.00px) scaleX(0.8865)">we</div>
<div class="t b" style="transform:translate(772.42px,1623.00px) scaleX(0.8843)">conditionally</div>
<div class="t" style="transform:translate(956.24px,1623.00px) scaleX(0.9468)">recommend</div>
<div class="t" style="transform:translate(1126.30px,1623.00px) scaleX(0.9293)">proceeding</div>
<div class="t" style="transform:translate(1283.29px,1623.00px) scaleX(0.9014)">to</div>
<div class="t" style="transform:translate(1316.76px,1623.00px) scaleX(0.8428)">TJA</div>
<div class="t" style="transform:translate(1375.25px,1623.00px) scaleX(0.9776)">without</div>
<div class="t" style="transform:translate(43.40px,1666.00px) scaleX(0.9043)">delay</div>
<div class="t" style="transform:translate(122.81px,1666.00px) scaleX(0.9026)">over</div>
<div class="t" style="transform:translate(187.58px,1666.00px) scaleX(0.9397)">delaying</div>
<div class="t" style="transform:translate(307.36px,1666.00px) scaleX(0.9381)">for</div>
<div class="t" style="transform:translate(351.49px,1666.00px) scaleX(0.9580)">optimization</div>
<div class="t" style="transform:translate(524.79px,1666.00px) scaleX(0.9484)">of</div>
<div class="t" style="transform:translate(560.00px,1666.00px) scaleX(0.9535)">non-life-threatening</div>
<div class="t" style="transform:translate(830.44px,1666.00px) scaleX(0.9570)">conditions.</div>
<div class="t" style="transform:translate(1518.00px,1623.00px) scaleX(0.9101)">There</div>
<div class="t" style="transform:translate(1604.64px,1623.00px) scaleX(0.9109)">were</div>
<div class="t" style="transform:translate(1677.41px,1623.00px) scaleX(0.9347)">no</div>
<div class="t" style="transform:translate(1718.67px,1623.00px) scaleX(0.9433)">studies</div>
<div class="t" style="transform:translate(1823.81px,1623.00px) scaleX(0.9644)">that</div>
<div class="t" style="transform:translate(1885.24px,1623.00px) scaleX(0.9363)">either</div>
<div class="t" style="transform:translate(1970.13px,1623.00px) scaleX(0.9629)">directly</div>
<div class="t" style="transform:translate(1518.00px,1666.00px) scaleX(0.9356)">or</div>
<div class="t" style="transform:translate(1553.76px,1666.00px) scaleX(0.9561)">indirectly</div>
<div class="t" style="transform:translate(1684.82px,1666.00px) scaleX(0.9172)">answered</div>
<div class="t" style="transform:translate(1821.40px,1666.00px) scaleX(0.9292)">our</div>
<div class="t" style="transform:translate(1875.15px,1666.00px) scaleX(0.8653)">PICO</div>
<div class="t" style="transform:translate(1952.06px,1666.00px) scaleX(0.9530)">question.</div>
</div></body></html>
